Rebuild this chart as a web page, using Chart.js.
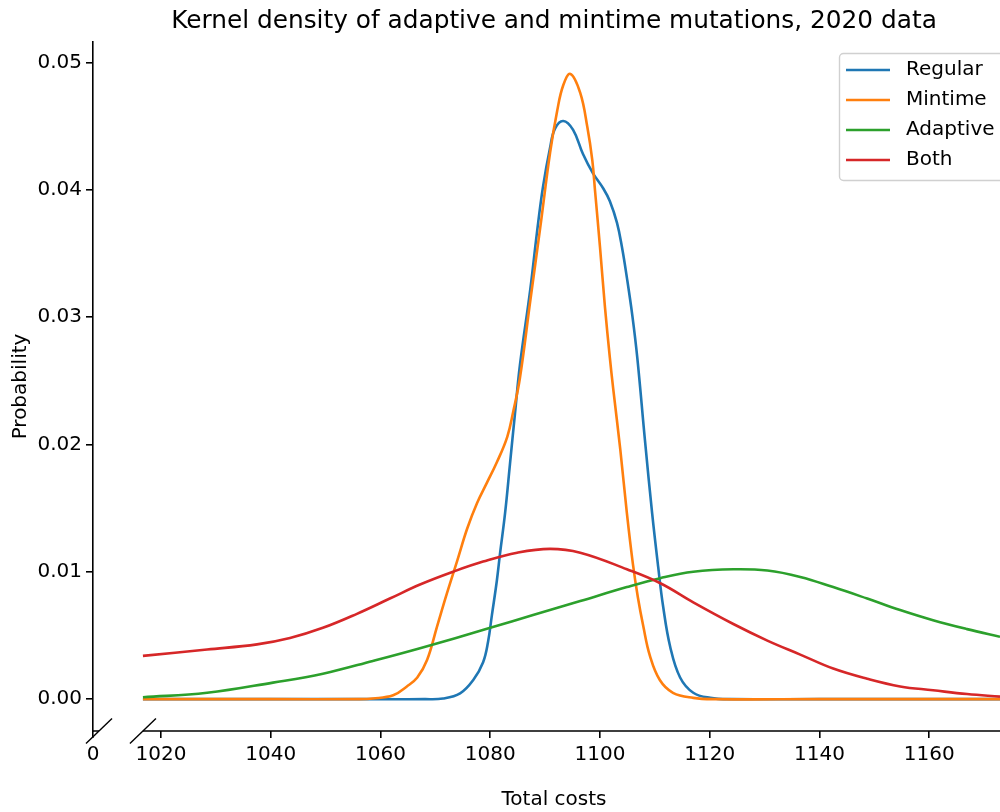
<!DOCTYPE html>
<html>
<head>
<meta charset="utf-8">
<script src="https://cdn.jsdelivr.net/npm/chart.js@4.4.0/dist/chart.umd.min.js"></script>
<style>
  html, body { margin: 0; padding: 0; background: #fff; }
  #wrap { width: 1000px; height: 812px; }
</style>
</head>
<body>
<div id="wrap"><canvas id="kde" width="1000" height="812"></canvas></div>
<script>
/* -----------------------------------------------------------
      DATA
------------------------------------------------------------*/
const chartTitle = "Kernel density of adaptive and mintime mutations, 2020 data";
const xLabel = "Total costs";
const yLabel = "Probability";

const seriesNames = ["Regular", "Mintime", "Adaptive", "Both"];
const seriesColors = ["#1f77b4", "#ff7f0e", "#2ca02c", "#d62728"];

const xTicks = [1020, 1040, 1060, 1080, 1100, 1120, 1140, 1160];
const yTicks = [0, 0.01, 0.02, 0.03, 0.04, 0.05];
const zeroLabel = "0";

// broken x axis: the "0" stub on the left, then the real range
const xStub = 1007.6;
const xStart = 1016.7;
const xEnd = 1172.9;
const yMin = -0.0025;
const yMax = 0.0516;

const regularX = [1016.7, 1040, 1060, 1068, 1071.4, 1074.5, 1076.9, 1078.7, 1079.6, 1080.3, 1081.2, 1081.8,
  1082.7, 1083.6, 1084.5, 1085.4, 1087.3, 1088.5, 1089.6, 1090.9, 1091.8, 1093.3, 1095.1, 1096.9, 1098.7,
  1100.6, 1101.8, 1103.1, 1104.0, 1104.9, 1105.9, 1106.8, 1108.2, 1109.5, 1110.6, 1111.5, 1112.8, 1114.6,
  1117.0, 1120.1, 1124, 1140, 1173];
const regularY = [0, 0, 0, 0, 0.00005, 0.00045, 0.0015, 0.0029, 0.0045, 0.0066, 0.0093, 0.0115,
  0.0146, 0.0185, 0.0224, 0.0262, 0.0322, 0.0366, 0.0402, 0.0433, 0.0448, 0.0454, 0.0447, 0.0428, 0.0413,
  0.0401, 0.0391, 0.0374, 0.0355, 0.0331, 0.0301, 0.0268, 0.0203, 0.0146, 0.0104, 0.0073, 0.0041, 0.0017,
  0.0005, 0.0001, 0, 0, 0];

const mintimeX = [1016.7, 1040, 1056, 1058.6, 1062.3, 1064.8, 1066.7, 1068.5, 1070.3, 1072.1, 1074.0, 1075.8,
  1077.6, 1079.4, 1081.2, 1083.1, 1084.2, 1085.4, 1087.3, 1089.1, 1090.9, 1092.2, 1093.3, 1094.6, 1096.4,
  1097.7, 1098.6, 1099.1, 1100.0, 1100.9, 1101.8, 1102.4, 1103.7, 1104.9, 1106.0, 1106.9, 1107.9, 1109.1,
  1110.9, 1113.3, 1117.0, 1121, 1140, 1173];
const mintimeY = [0, 0, 0, 0.00005, 0.0003, 0.001, 0.0017, 0.0031, 0.0057, 0.0083, 0.0109, 0.0134,
  0.0154, 0.017, 0.0186, 0.0206, 0.0226, 0.0252, 0.0313, 0.037, 0.0429, 0.0462, 0.0482, 0.0491, 0.0476,
  0.0449, 0.0423, 0.0399, 0.0355, 0.0308, 0.0268, 0.0244, 0.0196, 0.0146, 0.0106, 0.008, 0.0057, 0.0034,
  0.0015, 0.0005, 0.0001, 0, 0, 0];

const adaptiveX = [1016.7, 1028.4, 1040.4, 1049.5, 1058.6, 1067.2, 1080.0, 1087.8, 1096.4, 1104.9,
  1111.0, 1117.0, 1124.3, 1130.5, 1136.5, 1142.5, 1148.7, 1154.7, 1160.7, 1166.9, 1172.9];
const adaptiveY = [0.00015, 0.0005, 0.0013, 0.002, 0.003, 0.004, 0.0056, 0.0066, 0.0077, 0.0088,
  0.0095, 0.01, 0.0102, 0.0101, 0.0096, 0.0088, 0.0079, 0.007, 0.0062, 0.0055, 0.0049];

const bothX = [1016.7, 1028.4, 1037.5, 1043.5, 1049.5, 1055.7, 1061.7, 1067.2, 1073.2, 1078.7, 1084.9,
  1090.9, 1096.4, 1104.9, 1111.0, 1117.0, 1124.3, 1130.5, 1136.5, 1142.5, 1148.7, 1154.7, 1160.7,
  1166.9, 1172.9];
const bothY = [0.0034, 0.0039, 0.0043, 0.0048, 0.0056, 0.0067, 0.0079, 0.009, 0.0100, 0.0108, 0.0115,
  0.0118, 0.0115, 0.0102, 0.0091, 0.0076, 0.0059, 0.0046, 0.0035, 0.0024, 0.0016, 0.001, 0.0007,
  0.0004, 0.0002];

/* POINTS */
function toPoints(xs, ys) {
  return xs.map((x, i) => ({ x: x, y: ys[i] }));
}

const seriesPoints = [
  toPoints(regularX, regularY),
  toPoints(mintimeX, mintimeY),
  toPoints(adaptiveX, adaptiveY),
  toPoints(bothX, bothY)
];

/* -----------------------------------------------------------
      PLUGIN: title, x label, broken x axis, legend
------------------------------------------------------------*/
const FONT = "'DejaVu Sans', sans-serif";

const decorPlugin = {
  id: "decor",
  afterDraw(chart) {
    const ctx = chart.ctx;
    const area = chart.chartArea;
    const xs = chart.scales.x;
    const y0 = area.bottom;
    const xBreak = xs.getPixelForValue(xStart);

    ctx.save();
    ctx.fillStyle = "#000";
    ctx.textAlign = "center";
    ctx.textBaseline = "middle";

    // TITLE
    ctx.font = "24.8px " + FONT;
    ctx.fillText(chartTitle, 554, 22);

    // X LABEL
    ctx.font = "20px " + FONT;
    ctx.fillText(xLabel, 554, 800);

    // BROKEN BOTTOM SPINE
    ctx.strokeStyle = "#000";
    ctx.lineWidth = 1.6;
    ctx.beginPath();
    ctx.moveTo(area.left, y0);
    ctx.lineTo(area.left + 6, y0);
    ctx.moveTo(xBreak, y0);
    ctx.lineTo(area.right, y0);
    ctx.stroke();

    ctx.lineWidth = 1.4;
    [area.left + 6, xBreak].forEach((cx) => {
      ctx.beginPath();
      ctx.moveTo(cx - 13, y0 + 12.5);
      ctx.lineTo(cx + 13, y0 - 12.5);
      ctx.stroke();
    });

    // LEGEND
    const lx = 839.5, ly = 53.5;
    ctx.beginPath();
    ctx.roundRect(lx, ly, 220, 127, 4);
    ctx.fillStyle = "rgba(255,255,255,0.8)";
    ctx.fill();
    ctx.strokeStyle = "#d0d0d0";
    ctx.lineWidth = 1.4;
    ctx.stroke();

    ctx.textAlign = "left";
    ctx.font = "20px " + FONT;
    chart.data.datasets.forEach((ds, i) => {
      const yy = 70 + i * 30;
      ctx.strokeStyle = ds.borderColor;
      ctx.lineWidth = 2.6;
      ctx.beginPath();
      ctx.moveTo(846, yy);
      ctx.lineTo(890, yy);
      ctx.stroke();
      ctx.fillStyle = "#000";
      ctx.fillText(ds.label, 906, yy);
    });
    ctx.restore();
  }
};

/* -----------------------------------------------------------
      CHART
------------------------------------------------------------*/
Chart.defaults.font.family = FONT;
Chart.defaults.font.size = 20;
Chart.defaults.color = "#000";

new Chart(document.getElementById("kde").getContext("2d"), {
  type: "line",
  data: {
    datasets: seriesNames.map((name, i) => ({
      label: name,
      data: seriesPoints[i],
      borderColor: seriesColors[i],
      backgroundColor: seriesColors[i],
      borderWidth: 2.6,
      pointRadius: 0,
      fill: false,
      tension: 0.4,
      order: seriesNames.length - i
    }))
  },
  options: {
    responsive: false,
    animation: false,
    layout: { padding: { top: 42, right: 0, bottom: 0, left: 0 } },
    plugins: {
      legend: { display: false },
      tooltip: { enabled: false }
    },
    scales: {
      x: {
        type: "linear",
        min: xStub,
        max: xEnd,
        afterFit: (s) => { s.height = 81; },
        afterBuildTicks: (s) => {
          s.ticks = [{ value: xStub }].concat(xTicks.map((v) => ({ value: v })));
        },
        ticks: {
          autoSkip: false,
          maxRotation: 0,
          padding: 5,
          font: { size: 20 },
          callback: (v, i) => (i === 0 ? zeroLabel : String(v))
        },
        grid: { drawOnChartArea: false, drawTicks: true, tickLength: 7, color: "#000", lineWidth: 1.6 },
        border: { display: false }
      },
      y: {
        min: yMin,
        max: yMax,
        afterFit: (s) => { s.width = 93; },
        afterBuildTicks: (s) => {
          s.ticks = yTicks.map((v) => ({ value: v }));
        },
        ticks: {
          padding: 4,
          font: { size: 20 },
          callback: (v) => v.toFixed(2)
        },
        title: {
          display: true,
          text: yLabel,
          font: { size: 20 },
          padding: { top: 9, bottom: 0 }
        },
        grid: { drawOnChartArea: false, drawTicks: true, tickLength: 7, color: "#000", lineWidth: 1.6 },
        border: { display: true, color: "#000", width: 1.6 }
      }
    }
  },
  plugins: [decorPlugin]
});
</script>
</body>
</html>
